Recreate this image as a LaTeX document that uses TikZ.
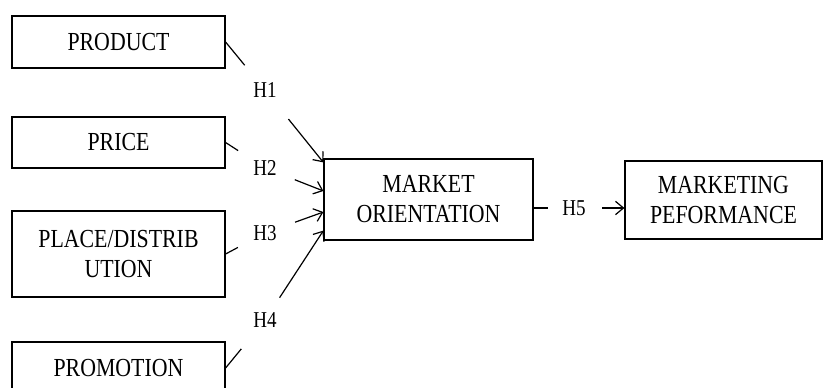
\documentclass[tikz,border=0pt]{standalone}
\usepackage{fontspec}
\usetikzlibrary{arrows.meta}
\newfontfamily\boxfont[FakeStretch=0.84]{Liberation Serif}
\tikzset{every picture/.style={line width=0.9pt}}
\tikzset{
  varbox/.style={draw, align=center, inner sep=0pt, minimum width=159.75pt,
    font=\boxfont\fontsize{19.5}{22.5}\selectfont},
  hyplabel/.style={inner sep=1pt, font=\boxfont\fontsize{17}{20}\selectfont},
  hyparrow/.style={-{Straight Barb[length=6pt,width=10pt]}}
}
\begin{document}
\begin{tikzpicture}[x=0.75pt,y=0.75pt,yscale=-1,xscale=1]
\useasboundingbox (0,0) rectangle (832,388);

% Text Node
\node [varbox, minimum height=39pt] (product) at (118.5,42) {PRODUCT};
% Text Node
\node [varbox, minimum height=38.25pt] (price) at (118.5,142.5) {PRICE};
% Text Node
\node [varbox, minimum height=64.5pt] (place) at (118.5,254) {PLACE/DISTRIB\\UTION};
% Text Node
\node [varbox, minimum height=39pt] (promotion) at (118.5,368) {PROMOTION};
% Text Node
\node [varbox, minimum width=156.75pt, minimum height=60.75pt] (mo) at (428.5,199.5) {MARKET\\ORIENTATION};
% Text Node
\node [varbox, minimum width=147.75pt, minimum height=58.5pt] (mp) at (723.5,200) {MARKETING\\PEFORMANCE};

% Text Node
\node [hyplabel] (h1) at (265,90) {H1};
\node [hyplabel] (h2) at (265,168) {H2};
\node [hyplabel] (h3) at (265,233) {H3};
\node [hyplabel] (h4) at (265,320) {H4};
\node [hyplabel] (h5) at (574,208) {H5};

% Connection
\draw [shorten >=24pt] (product.east) -- (h1.center);
\draw [hyparrow, shorten <=28pt] (h1.center) -- ([yshift=3pt]mo.north west);
% Connection
\draw [shorten >=24pt] (price.east) -- (h2.center);
\draw [hyparrow, shorten <=24pt] (h2.center) -- ([yshift=-6.4pt]mo.west);
% Connection
\draw [shorten >=23pt] (place.east) -- (h3.center);
\draw [hyparrow, shorten <=24pt] (h3.center) -- ([yshift=9.4pt]mo.west);
% Connection
\draw [shorten >=28pt] (promotion.east) -- (h4.center);
\draw [hyparrow, shorten <=20pt] (h4.center) -- ([yshift=-7.5pt]mo.south west);
% Connection
\draw [shorten >=19.5pt] (mo.east |- h5.center) -- (h5.center);
\draw [hyparrow, shorten <=21pt] (h5.center) -- (mp.west |- h5.center);

\end{tikzpicture}
\end{document}
